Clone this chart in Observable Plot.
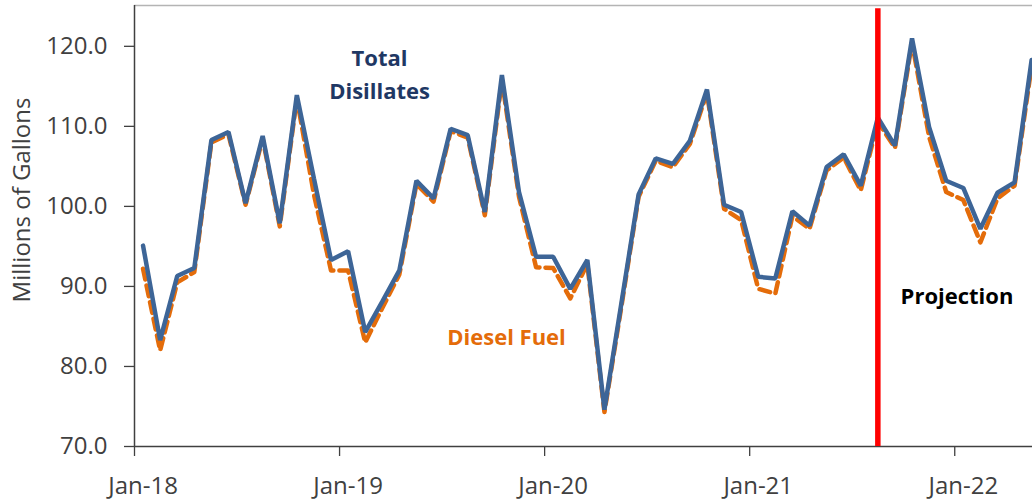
<!DOCTYPE html>
<html>
<head>
<meta charset="utf-8">
<script src="https://cdn.jsdelivr.net/npm/d3@7"></script>
<script src="https://cdn.jsdelivr.net/npm/@observablehq/plot@0.6"></script>
<style>
  body { margin: 0; background: #ffffff; }
  #chart svg { display: block; }
</style>
</head>
<body>
<div id="chart"></div>
<script>
const months = [
  "Jan-18","Feb-18","Mar-18","Apr-18","May-18","Jun-18","Jul-18","Aug-18","Sep-18","Oct-18","Nov-18","Dec-18",
  "Jan-19","Feb-19","Mar-19","Apr-19","May-19","Jun-19","Jul-19","Aug-19","Sep-19","Oct-19","Nov-19","Dec-19",
  "Jan-20","Feb-20","Mar-20","Apr-20","May-20","Jun-20","Jul-20","Aug-20","Sep-20","Oct-20","Nov-20","Dec-20",
  "Jan-21","Feb-21","Mar-21","Apr-21","May-21","Jun-21","Jul-21","Aug-21","Sep-21","Oct-21","Nov-21","Dec-21",
  "Jan-22","Feb-22","Mar-22","Apr-22","May-22"
];

const totalDistillates = [
  95.1, 83.3, 91.3, 92.3, 108.3, 109.3, 100.4, 108.8, 97.9, 113.9, 103.5, 93.3,
  94.4, 84.3, 88.1, 92.0, 103.2, 101.0, 109.7, 108.9, 99.3, 116.4, 101.8, 93.7,
  93.7, 89.7, 93.3, 74.6, 88.0, 101.5, 106.0, 105.3, 108.2, 114.6, 100.2, 99.3,
  91.2, 91.0, 99.4, 97.6, 104.9, 106.5, 102.6, 111.1, 107.6, 121.0, 109.9, 103.2,
  102.3, 97.2, 101.7, 103.0, 118.3
];

const dieselFuel = [
  92.2, 82.0, 90.5, 91.8, 108.0, 109.0, 100.2, 108.5, 97.5, 113.5, 101.5, 92.0,
  92.0, 83.0, 87.3, 91.5, 102.8, 100.6, 109.4, 108.6, 98.9, 115.8, 101.2, 92.4,
  92.3, 88.5, 92.8, 74.3, 87.6, 101.2, 105.7, 104.9, 107.8, 114.2, 99.7, 98.3,
  89.7, 89.1, 98.8, 97.2, 104.5, 106.1, 102.0, 110.6, 107.3, 120.5, 108.7, 101.8,
  100.8, 95.5, 101.0, 102.6, 117.6
];

const yTicks = [70, 80, 90, 100, 110, 120];
const xTickLabels = ["Jan-18", "Jan-19", "Jan-20", "Jan-21", "Jan-22"];
const projectionStart = "Aug-21";

const data = months.map((m, i) => ({i, month: m, total: totalDistillates[i], diesel: dieselFuel[i]}));
const labelIdx = xTickLabels.map(l => months.indexOf(l));
const boundaryIdx = labelIdx.map(i => i - 0.5);
const projIdx = months.indexOf(projectionStart);

const font = "'Open Sans', 'Noto Sans', sans-serif";
const yTop = 125.1;

const chart = Plot.plot({
  width: 1032,
  height: 500,
  marginLeft: 134,
  marginRight: 0,
  marginTop: 5,
  marginBottom: 54,
  style: {fontFamily: font, fontSize: "24px", color: "#404040", background: "#ffffff"},
  x: {type: "linear", domain: [-0.5, 52.05]},
  y: {domain: [70, yTop]},
  marks: [
    Plot.ruleY([yTop], {stroke: "#b4b4b4", strokeWidth: 1.5}),
    Plot.axisY({ticks: yTicks, tickFormat: d => d.toFixed(1), tickSize: 10, tickPadding: 17, label: null, stroke: "#404040", strokeWidth: 1.3}),
    Plot.axisX({ticks: boundaryIdx, tickSize: 10, tickFormat: () => "", label: null, stroke: "#404040", strokeWidth: 1.3}),
    Plot.axisX({ticks: labelIdx, tickSize: 0, tickPadding: 30, tickFormat: i => months[i], label: null}),
    Plot.ruleX([-0.5], {stroke: "#404040", strokeWidth: 1.5}),
    Plot.ruleY([70], {stroke: "#404040", strokeWidth: 1.5}),
    Plot.lineY(data, {x: "i", y: "diesel", stroke: "#E46C0A", strokeWidth: 4.5, strokeDasharray: "11,6"}),
    Plot.lineY(data, {x: "i", y: "total", stroke: "#3D6597", strokeWidth: 4.5, strokeLinejoin: "miter"}),
    Plot.ruleX([projIdx], {y1: 70, y2: 124.7, stroke: "#FF0000", strokeWidth: 5.5}),
    Plot.text(["Total"], {x: 13.84, y: 118.47, text: d => d, fill: "#1F3864", fontWeight: "bold", fontSize: 22}),
    Plot.text(["Disillates"], {x: 13.84, y: 114.35, text: d => d, fill: "#1F3864", fontWeight: "bold", fontSize: 22}),
    Plot.text(["Diesel Fuel"], {x: 21.27, y: 83.6, text: d => d, fill: "#E46C0A", fontWeight: "bold", fontSize: 22}),
    Plot.text(["Projection"], {x: 47.63, y: 88.74, text: d => d, fill: "#000000", fontWeight: "bold", fontSize: 22}),
    Plot.text(["Millions of Gallons"], {frameAnchor: "left", textAnchor: "middle", dx: -112, dy: -26, rotate: -90, text: d => d, fill: "#404040", fontSize: 24})
  ]
});

document.getElementById("chart").appendChild(chart);
</script>
</body>
</html>
